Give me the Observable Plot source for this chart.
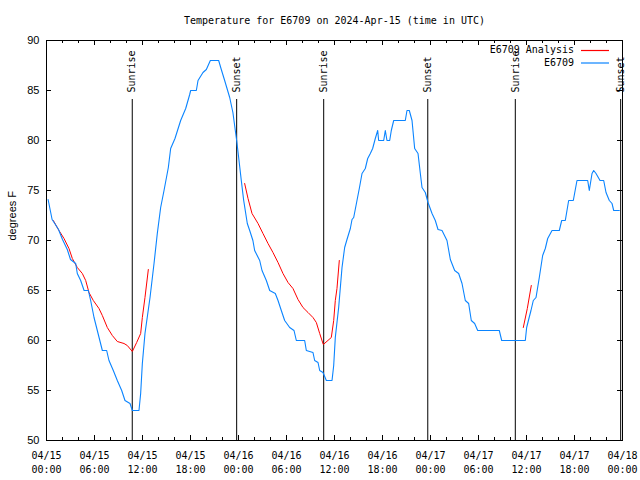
<!DOCTYPE html>
<html><head><meta charset="utf-8">
<script src="https://cdn.jsdelivr.net/npm/d3@7"></script>
<script src="https://cdn.jsdelivr.net/npm/@observablehq/plot@0.6"></script>
<style>
body{margin:0;background:#fff}
#wrap{position:relative;width:640px;height:480px}
svg text{font-kerning:none}
</style></head><body><div id="wrap"></div>
<script>
const titleText = "Temperature for E6709 on 2024-Apr-15 (time in UTC)";
const yLabel = "degrees F";
const seriesNames = ["E6709 Analysis", "E6709"];
const seriesColors = ["#ff0000", "#0a84ff"];

// Hours since 2024-04-15 00:00 UTC
const obsHours = [0.2,0.7,0.95,1.5,2.0,2.6,3.0,3.65,3.85,4.27,4.7,5.23,5.52,5.94,6.35,6.98,7.52,7.81,8.35,8.85,9.4,9.81,10.44,10.73,11.56,11.77,11.98,12.31,12.94,13.44,13.85,14.27,14.69,15.23,15.52,16.06,16.77,17.4,17.9,18.02,18.73,18.94,19.56,19.98,20.48,21.52,21.85,22.27,22.9,23.3,23.77,24.02,24.35,24.65,25.1,25.4,25.8,26.02,26.65,26.94,27.48,27.9,28.6,28.94,29.35,29.77,30.4,30.94,31.23,32.27,32.48,33.31,33.52,33.94,34.15,34.56,34.98,35.69,35.9,36.1,36.52,36.94,37.27,37.56,37.98,38.19,38.4,38.81,39.1,39.44,39.85,40.15,40.48,40.77,41.1,41.4,41.52,42.15,42.35,42.56,42.9,43.1,43.4,44.85,45.06,45.35,45.69,46.02,46.44,46.73,46.94,47.35,47.69,48.19,48.6,48.94,49.44,50.06,50.48,51.02,51.52,51.94,52.35,52.77,53.1,53.52,53.9,56.6,56.9,59.85,60.02,60.27,60.56,60.85,61.19,61.6,62.02,62.35,62.65,63.19,64.1,64.4,64.85,65.27,65.85,66.31,67.65,67.85,68.19,68.4,68.69,69.19,69.65,69.94,70.35,70.69,70.9,71.6];
const obsTemps = [74.1,72.1,71.8,71.1,70.1,69.1,68.1,67.7,66.7,66,65,65,64,62.3,61,59,59,58,57,56,55,54,53.7,53,53,54.7,57.7,60.7,64.3,67.7,70.7,73.3,75,77.3,79.2,80.2,82,83.2,84.6,85,85,86,86.8,87.1,88,88,87.1,86,84.3,82.8,80,78.3,76,74,71.7,71,70,69,68,67,66,65,64.7,64,63,62,61.3,61,60,60,59,58.8,58,57.8,57,56.8,56,56,57.5,60.3,63.3,67.3,69.3,70.1,71.2,72.1,72.3,74,75.2,76.7,77.2,78.2,78.7,79.2,80.2,81,80,80,81,80,80,81,82,82,83,83,82,79.2,78.7,76.7,75.3,74.8,73.8,72.7,72,71.1,71,70,68.1,67,66.7,65.7,64,63.7,62,61.7,61,61,60,60,61.3,62.1,63,64,64.3,66.3,68.5,69.2,70.2,71,71,72,72,74,74,76,76,75,76.7,77,76.7,76,76,74.8,74,73.7,73,73];

const anaSegment = [1,1,1,1,1,1,1,1,1,1,1,1,1,1,1,1,1,1,1,1,1,1,1, 2,2,2,2,2,2,2,2,2,2,2,2,2,2,2,2,2,2,2,2,2,2,2, 3,3,3];
const anaHours = [0.85,1.56,2.19,2.81,3.23,3.85,4.48,4.9,5.31,5.85,6.56,6.98,7.6,8.23,8.85,9.69,10.1,10.73,11.27,11.77,11.98,12.31,12.73,
  24.77,25.19,25.69,26.44,27.06,27.69,28.31,28.94,29.56,30.19,30.81,31.44,32.06,32.69,33.31,33.73,34.15,34.6,35.6,35.9,36.1,36.31,36.6,
  59.6,60.1,60.6];
const anaTemps = [72,71,70.2,69.2,68.2,67.3,66.7,66,64.8,64,63.2,62.5,61.3,60.5,59.9,59.7,59.5,58.9,59.8,60.7,62.3,64.3,67.1,
  75.7,74.2,72.7,71.7,70.7,69.7,68.8,67.8,66.7,65.8,65.2,64.1,63.3,62.8,62.3,61.8,60.7,59.6,60.3,62,64,65.2,68,
  61.3,63.2,65.5];

const sunNames = ["Sunrise","Sunset","Sunrise","Sunset","Sunrise","Sunset"];
const sunHours = [10.72,23.77,34.65,47.66,58.6,71.77];

const yTicks = [50,55,60,65,70,75,80,85,90];
const xMajorHours = [0,6,12,18,24,30,36,42,48,54,60,66,72];
const xMinorHours = [2,4,8,10,14,16,20,22,26,28,32,34,38,40,44,46,50,52,56,58,62,64,68,70];

const t0 = Date.UTC(2024,3,15,0,0);
const T = h => new Date(t0 + h*3600e3);

const obs = obsHours.map((h,i)=>({t:T(h), v:obsTemps[i]}));
const ana = anaHours.map((h,i)=>({t:T(h), v:anaTemps[i], s:anaSegment[i]}));
const sun = sunHours.map((h,i)=>({t:T(h), name:sunNames[i]}));
const xMajor = xMajorHours.map(T), xMinor = xMinorHours.map(T);

const mono = "DejaVu Sans Mono";
const sans = "Liberation Sans";

const plot = Plot.plot({
  width: 640, height: 480,
  marginLeft: 46, marginRight: 18, marginTop: 40, marginBottom: 40,
  style: {fontFamily: mono, fontSize: "10px", background: "#fff", color: "#000"},
  x: {type: "utc", domain: [T(0), T(72)]},
  y: {domain: [50, 90]},
  marks: [
    Plot.axisY(yTicks, {tickSize: 0, tickPadding: 7, label: null, fontFamily: sans, fontSize: 11}),
    Plot.axisX(xMajor, {tickSize: 0, tickPadding: 8, label: null, tickFormat: d3.utcFormat("%m/%d\n%H:%M"), lineHeight: 1.45, fontFamily: mono, fontSize: 10}),
    // inward ticks
    Plot.ruleX(xMajor, {x: d=>d, insetTop: 395, stroke: "#000"}),
    Plot.ruleX(xMajor, {x: d=>d, insetBottom: 395, stroke: "#000"}),
    Plot.ruleX(xMinor, {x: d=>d, insetTop: 397, stroke: "#000"}),
    Plot.ruleX(xMinor, {x: d=>d, insetBottom: 397, stroke: "#000"}),
    Plot.ruleY(yTicks, {y: d=>d, insetRight: 571, stroke: "#000"}),
    Plot.ruleY(yTicks, {y: d=>d, insetLeft: 571, stroke: "#000"}),
    // sunrise / sunset
    Plot.ruleX(sun, {x: "t", insetTop: 59, stroke: "#000"}),
    Plot.text(sun, {x: "t", text: "name", frameAnchor: "top", dy: 52, rotate: -90, textAnchor: "start", lineAnchor: "middle", fontFamily: mono, fontSize: 10, fill: "#000"}),
    // series
    Plot.line(ana, {x: "t", y: "v", z: "s", stroke: seriesColors[0], strokeWidth: 1}),
    Plot.line(obs, {x: "t", y: "v", stroke: seriesColors[1], strokeWidth: 1.1}),
    Plot.frame({stroke: "#000"}),
    // title and y label
    Plot.text([titleText], {frameAnchor: "top", dy: -20, lineAnchor: "middle", fontFamily: mono, fontSize: 10, fill: "#000"}),
    Plot.text([yLabel], {frameAnchor: "left", dx: -34, rotate: -90, lineAnchor: "middle", fontFamily: sans, fontSize: 11, fill: "#000"})
  ]
});
document.getElementById("wrap").appendChild(plot);

// legend (top right, inside frame)
const svg = d3.select(plot);
const lg = svg.append("g").attr("font-family", mono).attr("font-size", 10);
seriesNames.forEach((name, i) => {
  const y = 50 + i*12.5;
  lg.append("text").attr("x", 574).attr("y", y).attr("dy", "0.32em").attr("text-anchor", "end").attr("fill", "#000").text(name);
  lg.append("line").attr("x1", 581).attr("x2", 609).attr("y1", y + 0.5).attr("y2", y + 0.5).attr("stroke", seriesColors[i]).attr("stroke-width", 1.2);
});
</script></body></html>
